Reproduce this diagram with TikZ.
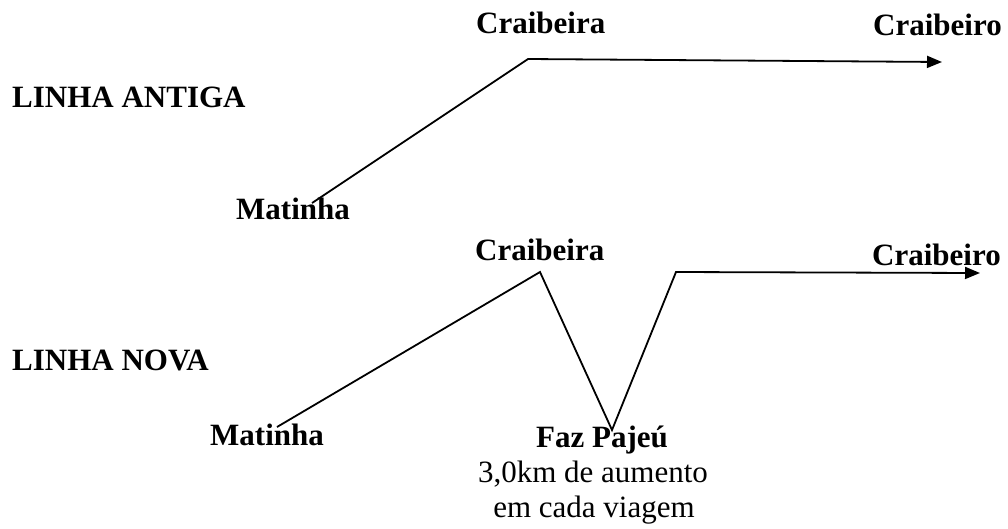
\documentclass[tikz,border=0pt]{standalone}
\usepackage{fontspec}
\setmainfont{Liberation Serif}
\usetikzlibrary{arrows.meta}
\tikzset{
  lbl/.style={inner sep=0pt, anchor=base west, font=\fontsize{31}{37}\selectfont\bfseries},
  note/.style={inner sep=0pt, anchor=base, font=\fontsize{31}{37}\selectfont},
  route/.style={line width=1.8pt, line join=miter},
  tip/.style={-{Triangle[length=15pt,width=12pt]}}
}
\begin{document}
\begin{tikzpicture}[x=1pt,y=-1pt]
\useasboundingbox (0,0) rectangle (1008,528);
% labels
\node[lbl] (antiga) at (12,107) {LINHA ANTIGA};
\node[lbl] (nova) at (12,370) {LINHA NOVA};
\node[lbl] (mat1) at (236,219) {Matinha};
\node[lbl] (cra1) at (476,33) {Craibeira};
\node[lbl] (cro1) at (873,35) {Craibeiro};
\node[lbl] (mat2) at (210,445) {Matinha};
\node[lbl] (cra2) at (475,260) {Craibeira};
\node[lbl] (cro2) at (872,265) {Craibeiro};
\node[lbl, anchor=base] (faz) at (602,447) {Faz Pajeú};
\node[note] (n1) at (593,482) {3,0km de aumento};
\node[note] (n2) at (594,517) {em cada viagem};
% route vertices
\coordinate (a0) at (312,203);
\coordinate (a1) at (528,59);
\coordinate (a2) at (942,62);
\coordinate (b0) at (277,427);
\coordinate (b1) at (540,272);
\coordinate (b2) at (612,430);
\coordinate (b3) at (676,272);
\coordinate (b4) at (980,273);
\draw[route, tip] (a0) -- (a1) -- (a2);
\draw[route, tip] (b0) -- (b1) -- (b2) -- (b3) -- (b4);
\end{tikzpicture}
\end{document}
